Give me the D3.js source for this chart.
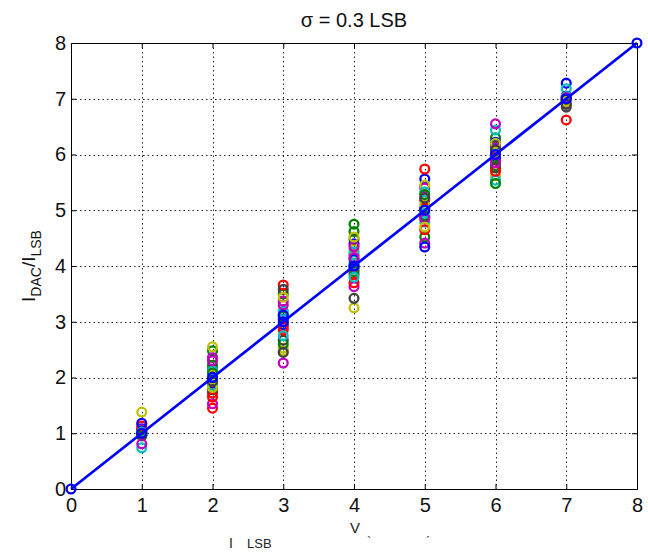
<!DOCTYPE html>
<html>
<head>
<meta charset="utf-8">
<script src="https://cdn.jsdelivr.net/npm/d3@7"></script>
<style>
  html, body { margin: 0; padding: 0; background: #fff; }
  svg { display: block; font-family: "Liberation Sans", Arial, sans-serif; }
</style>
</head>
<body>
<svg id="chart" width="648" height="552"></svg>
<script>
// ---- data ----
const codes = [1, 2, 3, 4, 5, 6, 7];
const idealX = [0, 1, 2, 3, 4, 5, 6, 7, 8];
const idealY = [0, 1, 2, 3, 4, 5, 6, 7, 8];
const xTicks = [0, 1, 2, 3, 4, 5, 6, 7, 8];
const yTicks = [0, 1, 2, 3, 4, 5, 6, 7, 8];
const titleText = "σ = 0.3 LSB";
// Monte Carlo runs, grouped by MATLAB colour order; each row = code, 3 runs per colour
const runsBlue    = [[1.08, 0.97, 1.18], [1.90, 2.03, 1.95], [3.05, 2.95, 3.12], [4.40, 3.95, 4.12], [5.56, 5.04, 4.34], [6.10, 5.95, 6.22], [7.28, 7.05, 6.97]];
const runsGreen   = [[1.00, 1.03, 0.95], [2.48, 2.22, 2.08], [3.50, 3.10, 2.60], [4.75, 4.62, 3.90], [4.52, 4.90, 5.28], [6.30, 5.80, 5.48], [6.92, 7.02, 6.96]];
const runsRed     = [[1.05, 1.13, 0.99], [1.72, 1.45, 1.65], [3.66, 2.90, 2.85], [4.20, 3.85, 3.70], [5.74, 5.18, 4.65], [5.90, 6.05, 5.70], [6.62, 6.98, 7.00]];
const runsCyan    = [[0.98, 0.74, 1.02], [1.98, 2.12, 1.86], [3.19, 3.14, 2.75], [4.05, 4.25, 3.80], [4.79, 5.33, 4.95], [6.44, 5.54, 6.02], [7.18, 6.95, 7.04]];
const runsMagenta = [[1.06, 0.97, 0.81], [2.36, 1.53, 2.30], [3.37, 3.30, 2.26], [3.63, 4.35, 4.15], [5.40, 4.41, 4.85], [6.55, 6.12, 5.85], [7.00, 6.93, 7.02]];
const runsYellow  = [[1.01, 0.96, 1.38], [2.55, 2.05, 1.82], [2.53, 2.48, 3.44], [4.30, 3.25, 4.52], [5.45, 5.10, 4.70], [5.62, 6.00, 6.20], [6.98, 7.03, 6.95]];
const runsBlack   = [[1.04, 0.98, 1.00], [2.15, 1.78, 1.93], [3.58, 2.67, 2.45], [4.48, 3.42, 4.00], [5.00, 4.88, 5.22], [6.17, 5.76, 6.08], [6.95, 6.85, 6.90]];

const seriesList = [
  { data: runsBlue,    color: "#0000ff" },
  { data: runsGreen,   color: "#008000" },
  { data: runsRed,     color: "#ff0000" },
  { data: runsCyan,    color: "#00bfbf" },
  { data: runsMagenta, color: "#bf00bf" },
  { data: runsYellow,  color: "#bfbf00" },
  { data: runsBlack,   color: "#404040" }
];

// ---- layout ----
const svg = d3.select("#chart");
const L = 71, R = 637, T = 43, B = 489;
const x = d3.scaleLinear().domain([0, 8]).range([L, R]);
const y = d3.scaleLinear().domain([0, 8]).range([B, T]);

// grid
const grid = svg.append("g").attr("stroke", "#222").attr("stroke-width", 1)
  .attr("stroke-dasharray", "1.5,3");
grid.selectAll(".gx").data(xTicks.slice(1, -1)).join("line")
  .attr("x1", d => Math.round(x(d)) + 0.5).attr("x2", d => Math.round(x(d)) + 0.5)
  .attr("y1", T).attr("y2", B);
grid.selectAll(".gy").data(yTicks.slice(1, -1)).join("line")
  .attr("y1", d => Math.round(y(d)) + 0.5).attr("y2", d => Math.round(y(d)) + 0.5)
  .attr("x1", L).attr("x2", R);

// axes
const fs = 20;
const ax = svg.append("g").attr("transform", `translate(0,${B})`)
  .call(d3.axisBottom(x).tickValues(xTicks).tickFormat(d3.format("d")).tickSize(-5).tickPadding(9));
const ay = svg.append("g").attr("transform", `translate(${L},0)`)
  .call(d3.axisLeft(y).tickValues(yTicks).tickFormat(d3.format("d")).tickSize(-5).tickPadding(5));
const axT = svg.append("g").attr("transform", `translate(0,${T})`)
  .call(d3.axisTop(x).tickValues(xTicks).tickFormat("").tickSize(-5));
const ayR = svg.append("g").attr("transform", `translate(${R},0)`)
  .call(d3.axisRight(y).tickValues(yTicks).tickFormat("").tickSize(-5));
[ax, ay, axT, ayR].forEach(g => {
  g.select(".domain").attr("stroke", "#000");
  g.selectAll(".tick line").attr("stroke", "#000");
  g.selectAll("text").attr("font-size", fs).attr("fill", "#111")
    .attr("font-family", "Liberation Sans, Arial, sans-serif");
});

// points
const pts = svg.append("g").attr("fill", "none").attr("stroke-width", 2.3);
for (let run = 0; run < 3; run++) {
  seriesList.forEach(s => {
    codes.forEach((c, i) => {
      pts.append("circle")
        .attr("cx", x(c)).attr("cy", y(s.data[i][run]))
        .attr("r", 4.4).attr("stroke", s.color);
    });
  });
}

// ideal line
const ideal = idealX.map((d, i) => [d, idealY[i]]);
svg.append("path").datum(ideal)
  .attr("d", d3.line().x(d => x(d[0])).y(d => y(d[1])))
  .attr("fill", "none").attr("stroke", "#0000ff").attr("stroke-width", 2.8);
svg.append("g").selectAll("circle").data(ideal).join("circle")
  .attr("cx", d => x(d[0])).attr("cy", d => y(d[1])).attr("r", 4.4)
  .attr("fill", "none").attr("stroke", "#0000ff").attr("stroke-width", 2.3);

// title
svg.append("text").attr("x", (L + R) / 2).attr("y", 27).attr("text-anchor", "middle")
  .attr("font-size", 20).attr("fill", "#111").text(titleText);

// y label
const yl = svg.append("text").attr("transform", `translate(35,${(T + B) / 2}) rotate(-90)`)
  .attr("text-anchor", "middle").attr("font-size", 19).attr("fill", "#111");
yl.append("tspan").text("I");
yl.append("tspan").attr("font-size", 14).attr("dy", 6).text("DAC");
yl.append("tspan").attr("dy", -6).text("/I");
yl.append("tspan").attr("font-size", 14).attr("dy", 6).text("LSB");

// partially visible x label fragments
svg.append("text").attr("x", 355).attr("y", 533).attr("text-anchor", "middle")
  .attr("font-size", 15).attr("fill", "#222").text("V");
svg.append("text").attr("x", 229).attr("y", 548).attr("font-size", 14).attr("fill", "#222").text("I");
svg.append("text").attr("x", 247).attr("y", 548).attr("font-size", 13).attr("fill", "#222").text("LSB");
svg.append("text").attr("x", 367).attr("y", 546).attr("font-size", 13).attr("fill", "#444").text("`");
svg.append("text").attr("x", 426).attr("y", 546).attr("font-size", 13).attr("fill", "#444").text("´");
</script>
</body>
</html>
